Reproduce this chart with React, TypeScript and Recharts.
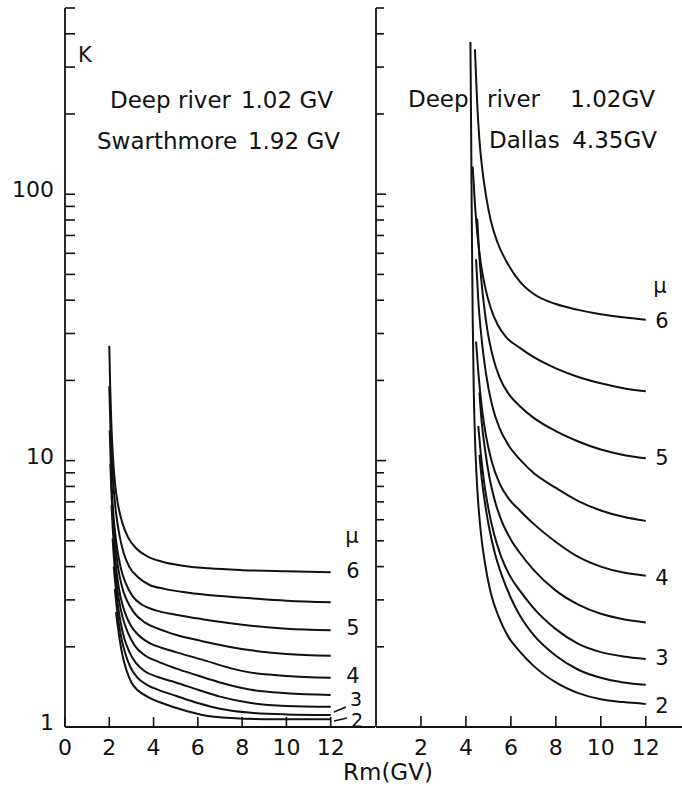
import React from 'react';
import { LineChart, Line, XAxis, YAxis } from 'recharts';

// ---------- axis ticks ----------
const yMajorTicks = [1, 10, 100];
const yAllTicks = [1, 2, 3, 4, 5, 6, 7, 8, 9, 10, 20, 30, 40, 50, 60, 70, 80, 90, 100, 200, 300, 400, 500];
const leftXTicks = [0, 2, 4, 6, 8, 10, 12];
const rightXTicks = [2, 4, 6, 8, 10, 12];
const muNames = ['6', '5.5', '5', '4.5', '4', '3.5', '3', '2.5', '2'];

// ---------- left panel: Deep river 1.02 GV / Swarthmore 1.92 GV ----------
const leftMu6 = [[2.0, 27], [2.04, 19], [2.09, 14], [2.16, 10.5], [2.26, 8.2], [2.4, 6.8], [2.6, 5.8], [2.85, 5.15], [3.2, 4.7], [3.7, 4.38], [4.4, 4.17], [5.3, 4.03], [6.5, 3.94], [8, 3.88], [10, 3.84], [12, 3.81]];
const leftMu55 = [[2.0, 19], [2.05, 13.5], [2.1, 10.5], [2.18, 8.2], [2.3, 6.4], [2.45, 5.3], [2.65, 4.5], [2.9, 4.0], [3.3, 3.65], [3.8, 3.42], [4.5, 3.3], [5.5, 3.2], [7, 3.1], [8.4, 3.04], [10, 2.98], [12, 2.94]];
const leftMu5 = [[2.02, 13], [2.07, 9.5], [2.13, 7.4], [2.22, 5.8], [2.35, 4.7], [2.52, 3.95], [2.75, 3.45], [3.05, 3.1], [3.5, 2.87], [4.1, 2.74], [5, 2.64], [6.2, 2.54], [8.4, 2.4], [10, 2.34], [12, 2.31]];
const leftMu45 = [[2.05, 9.7], [2.1, 7.5], [2.17, 6.0], [2.27, 4.8], [2.4, 3.95], [2.58, 3.35], [2.8, 2.98], [3.1, 2.7], [3.6, 2.47], [4.2, 2.34], [5, 2.22], [6.2, 2.1], [8.4, 1.94], [10, 1.88], [12, 1.85]];
const leftMu4 = [[2.1, 6.8], [2.16, 5.5], [2.24, 4.5], [2.35, 3.7], [2.5, 3.1], [2.7, 2.7], [2.95, 2.42], [3.3, 2.22], [3.8, 2.07], [4.4, 1.98], [5, 1.91], [6.2, 1.79], [7.5, 1.66], [8.4, 1.6], [10, 1.555], [12, 1.53]];
const leftMu35 = [[2.15, 5.1], [2.22, 4.2], [2.32, 3.5], [2.45, 2.95], [2.62, 2.55], [2.85, 2.25], [3.15, 2.02], [3.6, 1.86], [4.2, 1.76], [5, 1.66], [6, 1.56], [7, 1.47], [8.4, 1.38], [10, 1.34], [12, 1.32]];
const leftMu3 = [[2.2, 4.0], [2.28, 3.4], [2.38, 2.9], [2.5, 2.5], [2.68, 2.15], [2.9, 1.92], [3.2, 1.74], [3.6, 1.62], [4.2, 1.54], [5, 1.47], [6, 1.38], [7, 1.3], [8.4, 1.23], [10, 1.2], [12, 1.19]];
const leftMu25 = [[2.25, 3.3], [2.33, 2.85], [2.43, 2.45], [2.56, 2.13], [2.73, 1.88], [2.95, 1.68], [3.25, 1.54], [3.7, 1.44], [4.3, 1.37], [5, 1.31], [6, 1.23], [7, 1.17], [8.4, 1.13], [10, 1.115], [12, 1.11]];
const leftMu2 = [[2.3, 2.7], [2.38, 2.4], [2.48, 2.1], [2.6, 1.85], [2.78, 1.63], [3, 1.47], [3.3, 1.37], [3.8, 1.29], [4.5, 1.22], [5.3, 1.16], [6.2, 1.11], [7.5, 1.08], [9, 1.07], [12, 1.07]];
const leftCurves = [leftMu6, leftMu55, leftMu5, leftMu45, leftMu4, leftMu35, leftMu3, leftMu25, leftMu2];

// ---------- right panel: Deep river 1.02 GV / Dallas 4.35 GV ----------
const rightMu6 = [[4.4, 350], [4.5, 220], [4.6, 160], [4.75, 120], [4.9, 98], [5.1, 80], [5.4, 66], [5.8, 56], [6.4, 47], [7, 42.3], [8, 38.7], [9, 36.8], [10, 35.4], [11, 34.5], [12, 33.8]];
const rightMu55 = [[4.3, 127], [4.4, 92], [4.5, 72], [4.65, 56], [4.85, 45], [5.1, 37.5], [5.4, 32.5], [5.8, 29], [6.4, 26.5], [7, 24.5], [8, 22.2], [9, 20.6], [10, 19.5], [11, 18.7], [12, 18.2]];
const rightMu5 = [[4.5, 81], [4.6, 58], [4.75, 42], [4.95, 31], [5.2, 24.5], [5.5, 20.5], [5.9, 17.8], [6.4, 16], [7, 14.5], [8, 12.9], [9, 11.8], [10, 11.0], [11, 10.5], [12, 10.2]];
const rightMu45 = [[4.45, 57], [4.55, 40], [4.7, 28.5], [4.9, 21], [5.15, 16.3], [5.5, 13.2], [5.9, 11.4], [6.4, 10.1], [7, 9.0], [8, 7.9], [9, 7.05], [10, 6.5], [11, 6.15], [12, 5.94]];
const rightMu4 = [[4.45, 28], [4.55, 21.5], [4.7, 16], [4.9, 12.3], [5.15, 9.9], [5.5, 8.2], [5.9, 7.2], [6.4, 6.5], [7, 5.8], [8, 4.95], [9, 4.35], [10, 4.0], [11, 3.8], [12, 3.7]];
const rightMu35 = [[4.6, 18], [4.7, 14], [4.85, 11], [5.05, 8.6], [5.3, 7.0], [5.6, 5.9], [6, 5.05], [6.4, 4.5], [7, 3.9], [8, 3.25], [9, 2.88], [10, 2.66], [11, 2.54], [12, 2.47]];
const rightMu3 = [[4.55, 13.5], [4.65, 10.8], [4.8, 8.4], [5, 6.6], [5.25, 5.3], [5.55, 4.4], [5.95, 3.7], [6.4, 3.25], [7, 2.8], [8, 2.33], [9, 2.05], [10, 1.91], [11, 1.84], [12, 1.8]];
const rightMu25 = [[4.6, 10.5], [4.7, 8.6], [4.85, 6.9], [5.05, 5.5], [5.3, 4.45], [5.6, 3.7], [6, 3.05], [6.4, 2.62], [7, 2.22], [8, 1.85], [9, 1.64], [10, 1.53], [11, 1.47], [12, 1.44]];
const rightMu2 = [[4.2, 373], [4.23, 180], [4.26, 80], [4.3, 35], [4.35, 18], [4.42, 11], [4.52, 7.5], [4.65, 5.5], [4.85, 4.1], [5.1, 3.2], [5.45, 2.6], [5.9, 2.17], [6.4, 1.92], [7, 1.7], [8, 1.47], [9, 1.34], [10, 1.27], [11, 1.24], [12, 1.22]];
const rightCurves = [rightMu6, rightMu55, rightMu5, rightMu45, rightMu4, rightMu35, rightMu3, rightMu25, rightMu2];

// ---------- layout ----------
const FONT = 'DejaVu Sans';
const FS = 22;
const H = 786;
const PLOT_TOP = 8;
const PLOT_BOTTOM = 727;
const INK = '#111';

const toRows = (pts: number[][]) => pts.map(([x, k]) => ({ x, k }));

const makeYTick = (dir: number, len: number, majorLen: number, withLabel: boolean) => (props: any) => {
  const { x, y, payload } = props;
  const v = payload.value;
  const major = yMajorTicks.includes(v);
  const l = major ? majorLen : len;
  return (
    <g>
      <line x1={x} y1={y} x2={x + dir * l} y2={y} stroke={INK} strokeWidth={1.6} />
      {withLabel && major ? (
        <text x={x - 11} y={y + 3} textAnchor="end" fontFamily={FONT} fontSize={FS} fill={INK}>
          {v}
        </text>
      ) : null}
    </g>
  );
};

const makeXTick = (dir: number, len: number, withLabel: boolean) => (props: any) => {
  const { x, y, payload } = props;
  return (
    <g>
      <line x1={x} y1={y} x2={x} y2={y + dir * len} stroke={INK} strokeWidth={1.6} />
      {withLabel ? (
        <text x={x} y={y + 28} textAnchor="middle" fontFamily={FONT} fontSize={FS} fill={INK}>
          {payload.value}
        </text>
      ) : null}
    </g>
  );
};

const axisLineStyle = { stroke: INK, strokeWidth: 1.8 };

function Panel(props: {
  width: number;
  leftW: number;
  rightMargin: number;
  xMax: number;
  xTicks: number[];
  curves: number[][][];
  leftTick: any;
  rightTick: any;
  bottomTick: any;
}) {
  const { width, leftW, rightMargin, xMax, xTicks, curves, leftTick, rightTick, bottomTick } = props;
  return (
    <LineChart width={width} height={H} margin={{ top: PLOT_TOP, right: rightMargin, bottom: 0, left: 0 }}>
      <XAxis
        xAxisId="b"
        dataKey="x"
        type="number"
        domain={[0, xMax]}
        ticks={xTicks}
        interval={0}
        allowDataOverflow
        height={H - PLOT_BOTTOM}
        tickSize={0}
        tickMargin={0}
        tickLine={false}
        axisLine={axisLineStyle}
        tick={bottomTick}
      />
      <XAxis
        xAxisId="t"
        orientation="top"
        dataKey="x"
        type="number"
        domain={[0, xMax]}
        ticks={xTicks}
        interval={0}
        allowDataOverflow
        height={0}
        tickSize={0}
        tickMargin={0}
        tickLine={false}
        axisLine={axisLineStyle}
        tick={makeXTick(1, 8, false)}
      />
      <YAxis
        yAxisId="l"
        scale="log"
        type="number"
        domain={[1, 500]}
        ticks={yAllTicks}
        interval={0}
        allowDataOverflow
        width={leftW}
        tickSize={0}
        tickMargin={0}
        tickLine={false}
        axisLine={axisLineStyle}
        tick={leftTick}
      />
      <YAxis
        yAxisId="r"
        orientation="right"
        scale="log"
        type="number"
        domain={[1, 500]}
        ticks={yAllTicks}
        interval={0}
        allowDataOverflow
        width={0}
        tickSize={0}
        tickMargin={0}
        tickLine={false}
        axisLine={axisLineStyle}
        tick={rightTick}
      />
      {curves.map((c, i) => (
        <Line
          key={muNames[i]}
          xAxisId="b"
          yAxisId="l"
          data={toRows(c)}
          dataKey="k"
          type="monotone"
          stroke={INK}
          strokeWidth={2}
          dot={false}
          activeDot={false}
          isAnimationActive={false}
        />
      ))}
    </LineChart>
  );
}

const txt = { fontFamily: FONT, fontSize: 23, fill: INK } as const;
const lbl = { fontFamily: FONT, fontSize: 21, fill: INK, textAnchor: 'middle' } as const;

export default function App() {
  return (
    <div style={{ position: 'absolute', left: 0, top: 0, width: 682, height: H, overflow: 'hidden', background: '#fff' }}>
      <div style={{ position: 'absolute', left: 0, top: 0 }}>
        <Panel
          width={380}
          leftW={65}
          rightMargin={5}
          xMax={14}
          xTicks={leftXTicks}
          curves={leftCurves}
          leftTick={makeYTick(1, 10, 10, true)}
          rightTick={makeYTick(-1, 4, 8, false)}
          bottomTick={makeXTick(-1, 10, true)}
        />
      </div>
      <div style={{ position: 'absolute', left: 366, top: 0 }}>
        <Panel
          width={330}
          leftW={10}
          rightMargin={12}
          xMax={13.7}
          xTicks={rightXTicks}
          curves={rightCurves}
          leftTick={makeYTick(1, 8, 10, false)}
          rightTick={makeYTick(-1, 6, 8, false)}
          bottomTick={makeXTick(-1, 11, true)}
        />
      </div>
      <svg width={682} height={H} style={{ position: 'absolute', left: 0, top: 0, pointerEvents: 'none' }}>
        <text x={78} y={62} fontFamily={FONT} fontSize={21} fill={INK}>K</text>

        <text x={110} y={108} {...txt}>Deep river</text>
        <text x={333} y={108} textAnchor="end" {...txt}>1.02 GV</text>
        <text x={97} y={149} {...txt}>Swarthmore</text>
        <text x={340} y={149} textAnchor="end" {...txt}>1.92 GV</text>

        <text x={408} y={107} {...txt}>Deep</text>
        <text x={487} y={107} {...txt}>river</text>
        <text x={655} y={107} textAnchor="end" {...txt}>1.02GV</text>
        <text x={489} y={148} {...txt}>Dallas</text>
        <text x={657} y={148} textAnchor="end" {...txt}>4.35GV</text>

        <text x={343} y={780} {...txt}>Rm(GV)</text>

        {/* left panel mu labels */}
        <text x={352} y={543} {...lbl}>μ</text>
        <text x={353} y={578} {...lbl}>6</text>
        <text x={353} y={635} {...lbl}>5</text>
        <text x={353} y={683} {...lbl}>4</text>
        <text x={356} y={706} {...lbl} fontSize={19}>3</text>
        <text x={357} y={727} {...lbl} fontSize={19}>2</text>
        <line x1={334} y1={712} x2={346} y2={707} stroke={INK} strokeWidth={1.4} />
        <line x1={334} y1={721} x2={347} y2={718} stroke={INK} strokeWidth={1.4} />

        {/* right panel mu labels */}
        <text x={660} y={293} {...lbl}>μ</text>
        <text x={662} y={328} {...lbl}>6</text>
        <text x={662} y={465} {...lbl}>5</text>
        <text x={662} y={585} {...lbl}>4</text>
        <text x={662} y={665} {...lbl}>3</text>
        <text x={662} y={713} {...lbl}>2</text>
      </svg>
    </div>
  );
}
